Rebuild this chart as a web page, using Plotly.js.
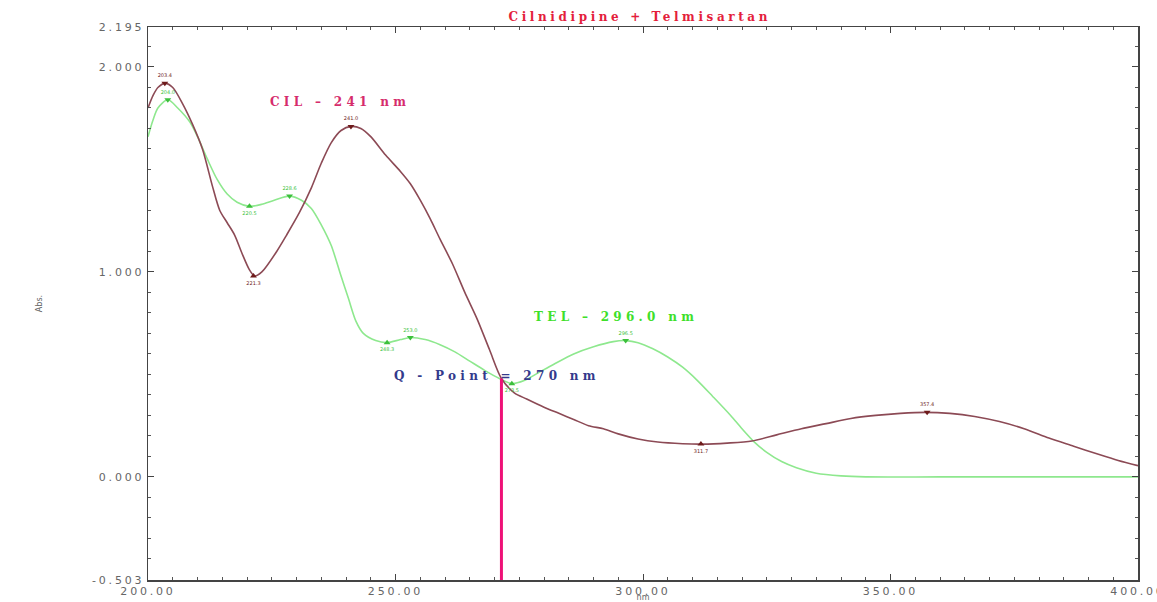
<!DOCTYPE html>
<html>
<head>
<meta charset="utf-8">
<script src="https://cdn.plot.ly/plotly-3.0.1.min.js"></script>
<style>
  html, body { margin: 0; padding: 0; background: #fff; overflow: hidden; }
  #chart { width: 1157px; height: 602px; }
  .annotation-text { letter-spacing: 4.3px; }
  .gtitle { letter-spacing: 3.6px; }
  .xtick text, .ytick text { letter-spacing: 2.8px; }
</style>
</head>
<body>
<div id="chart"></div>
<script>
// ---- data ----
const cilNm = [200, 201, 202, 203.5, 205, 207, 209, 211, 213, 214.5, 216, 217.5, 219, 220.5, 221.5, 223, 226, 228, 230.6, 233, 235, 237, 239, 241, 243, 245, 248, 251, 253, 255, 257, 259, 261.5, 264, 266.5, 269, 271.4, 274, 276.5, 280, 283, 286, 289, 292, 295, 299, 303, 308, 312, 317, 322, 327, 332, 337, 342, 347, 352, 357, 362, 367, 372, 377, 382, 387, 392, 396, 400];
const cilAbs = [1.80, 1.86, 1.90, 1.92, 1.90, 1.82, 1.72, 1.60, 1.42, 1.30, 1.24, 1.18, 1.09, 1.01, 0.98, 1.00, 1.10, 1.18, 1.29, 1.41, 1.53, 1.63, 1.69, 1.71, 1.70, 1.66, 1.57, 1.49, 1.43, 1.35, 1.26, 1.16, 1.04, 0.90, 0.77, 0.62, 0.48, 0.41, 0.38, 0.34, 0.31, 0.28, 0.25, 0.235, 0.21, 0.185, 0.17, 0.162, 0.16, 0.165, 0.175, 0.205, 0.235, 0.26, 0.285, 0.30, 0.31, 0.315, 0.31, 0.295, 0.27, 0.235, 0.19, 0.15, 0.11, 0.08, 0.055];

const telNm = [200, 201, 202, 204, 206, 208.5, 210, 212, 214, 216, 218, 220.5, 223, 225.5, 228.5, 231, 233, 235, 237, 239, 240.5, 242, 243.5, 246, 248.3, 251, 253, 256, 259, 262, 265, 268, 271, 273.5, 276, 279, 282, 286, 290, 294, 296.5, 299, 302, 305, 308, 311, 314, 317.7, 320, 322.5, 325, 328, 331, 335, 340, 345, 360, 380, 400];
const telAbs = [1.66, 1.74, 1.80, 1.84, 1.80, 1.73, 1.66, 1.55, 1.45, 1.38, 1.34, 1.32, 1.33, 1.35, 1.37, 1.35, 1.31, 1.23, 1.13, 0.98, 0.87, 0.76, 0.70, 0.665, 0.655, 0.67, 0.68, 0.67, 0.645, 0.61, 0.565, 0.52, 0.48, 0.455, 0.47, 0.51, 0.55, 0.60, 0.635, 0.66, 0.665, 0.655, 0.625, 0.585, 0.535, 0.47, 0.395, 0.30, 0.235, 0.17, 0.12, 0.075, 0.045, 0.018, 0.005, 0, 0, 0, 0];

// picked peaks / valleys
const cilPickNm  = [203.4, 221.3, 241.0, 311.7, 357.4];
const cilPickAbs = [1.92, 0.98, 1.71, 0.16, 0.315];
const cilPickKind = ['max', 'min', 'max', 'min', 'max'];

const telPickNm  = [204.0, 220.5, 228.6, 248.3, 253.0, 273.5, 296.5];
const telPickAbs = [1.84, 1.32, 1.37, 0.655, 0.68, 0.455, 0.665];
const telPickKind = ['max', 'min', 'max', 'min', 'max', 'min', 'max'];

// isosbestic (Q) point
const qNm = 271.4;
const qAbs = 0.48;

// axis ticks
const yTickVals = [-0.503, 0, 1, 2, 2.195];
const yTickText = ['-0.503', '0.000', '1.000', '2.000', '2.195'];
const xTickVals = [200, 250, 300, 350, 400];
const xTickText = ['200.00', '250.00', '300.00', '350.00', '400.00'];

const titleText = 'Cilnidipine + Telmisartan';
const cilLabel = 'CIL – 241 nm';
const telLabel = 'TEL – 296.0 nm';
const qLabel = 'Q - Point = 270 nm';

// ---- styles ----
const CIL_COLOR = '#8c4a55';
const TEL_COLOR = '#8ee88e';
const yMin = -0.503, yMax = 2.195;

function pickTrace(nm, abs, kind, color) {
  return {
    x: nm, y: abs, mode: 'markers+text', type: 'scatter',
    marker: { symbol: kind.map(k => k === 'max' ? 'triangle-down' : 'triangle-up'), size: 6, color: color },
    text: nm.map(v => v.toFixed(1)),
    textposition: kind.map(k => k === 'max' ? 'top center' : 'bottom center'),
    textfont: { size: 5, color: color, family: 'DejaVu Sans' },
    hoverinfo: 'skip', showlegend: false, cliponaxis: false
  };
}

const traces = [
  { x: telNm, y: telAbs, type: 'scatter', mode: 'lines', line: { color: TEL_COLOR, width: 1.6, shape: 'spline', smoothing: 0.8 }, showlegend: false },
  { x: cilNm, y: cilAbs, type: 'scatter', mode: 'lines', line: { color: CIL_COLOR, width: 1.6, shape: 'spline', smoothing: 0.8 }, showlegend: false },
  { x: [qNm, qNm], y: [yMin, qAbs], type: 'scatter', mode: 'lines', line: { color: '#ee1177', width: 3 }, showlegend: false },
  pickTrace(telPickNm, telPickAbs, telPickKind, '#3cbf3c'),
  pickTrace(cilPickNm, cilPickAbs, cilPickKind, '#6e1b1b')
];

const axisCommon = {
  showgrid: false, zeroline: false, showline: true, linecolor: '#444', linewidth: 1.5,
  mirror: 'allticks', ticks: 'inside', ticklen: 6, tickwidth: 1, tickcolor: '#444',
  ticklabeloverflow: 'allow',
  tickfont: { family: 'DejaVu Sans', size: 11, color: '#666' }
};

const layout = {
  width: 1157, height: 602,
  margin: { l: 148, r: 19, t: 27, b: 22 },
  paper_bgcolor: '#fff', plot_bgcolor: '#fff',
  title: { text: titleText, x: 0.553, xanchor: 'center', y: 0.972, yanchor: 'middle',
           font: { family: 'DejaVu Serif', size: 12, color: '#e41e3c', weight: 'bold' } },
  xaxis: Object.assign({}, axisCommon, {
    range: [200, 400], tickmode: 'array', tickvals: xTickVals, ticktext: xTickText,
    minor: { tickmode: 'linear', tick0: 200, dtick: 5, ticks: 'inside', ticklen: 3, tickcolor: '#555' },
    title: { text: 'nm', standoff: 7, font: { family: 'DejaVu Sans', size: 8, color: '#666' } }
  }),
  yaxis: Object.assign({}, axisCommon, {
    range: [yMin, yMax], tickmode: 'array', tickvals: yTickVals, ticktext: yTickText,
    minor: { tickmode: 'linear', tick0: 0, dtick: 0.1, ticks: 'inside', ticklen: 3, tickcolor: '#555' },
    title: { text: 'Abs.', standoff: 48, font: { family: 'DejaVu Sans', size: 8, color: '#666' } }
  }),
  annotations: [
    { x: 238.8, y: 1.83, xref: 'x', yref: 'y', text: cilLabel, showarrow: false,
      font: { family: 'DejaVu Serif', size: 12, color: '#d62c6c', weight: 'bold' } },
    { x: 294.5, y: 0.78, xref: 'x', yref: 'y', text: telLabel, showarrow: false,
      font: { family: 'DejaVu Serif', size: 12, color: '#3ee02a', weight: 'bold' } },
    { x: 270.5, y: 0.49, xref: 'x', yref: 'y', text: qLabel, showarrow: false,
      font: { family: 'DejaVu Serif', size: 12, color: '#333a8c', weight: 'bold' } }
  ],
  showlegend: false
};

Plotly.newPlot('chart', traces, layout, { displayModeBar: false, staticPlot: true });
</script>
</body>
</html>
